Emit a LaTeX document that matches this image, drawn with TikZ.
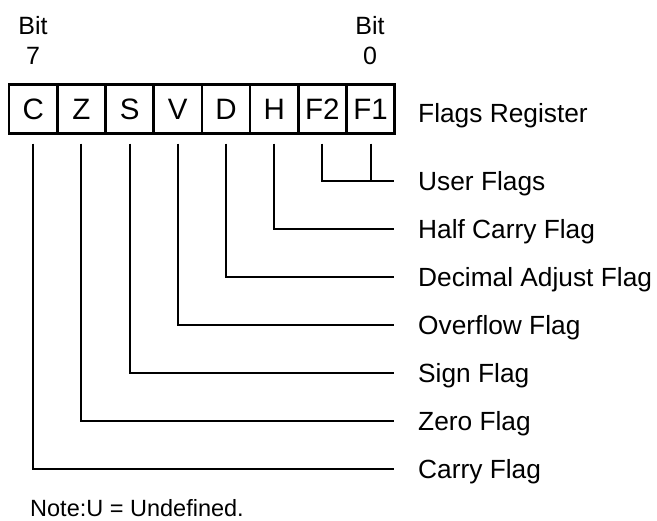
\documentclass[tikz,border=0pt]{standalone}
\usepackage{fontspec}
\setmainfont{Liberation Sans}
\begin{document}
\begin{tikzpicture}[x=1pt,y=-1pt,
  cell/.style={draw, line width=2.7pt, minimum width=48.2pt, minimum height=49pt, inner sep=0pt, text height=21pt, text depth=0pt, font=\fontsize{29.5}{35}\selectfont},
  flaglabel/.style={anchor=west, inner sep=0pt, text height=18.6pt, text depth=0pt, font=\fontsize{26.3}{31}\selectfont},
  bittext/.style={anchor=base, inner sep=0pt, font=\fontsize{25}{30}\selectfont},
  conn/.style={line width=2pt}
]
\useasboundingbox (0,0) rectangle (657,521);
% register cells
\node[cell] (C)  at (33.2,108.8) {C};
\node[cell] (Z)  at (81.4,108.8) {Z};
\node[cell] (S)  at (129.6,108.8) {S};
\node[cell] (V)  at (177.8,108.8) {V};
\node[cell] (D)  at (226.0,108.8) {D};
\node[cell] (H)  at (274.2,108.8) {H};
\node[cell] (F2) at (322.4,108.8) {F2};
\node[cell] (F1) at (370.6,108.8) {F1};
% bit numbers
\node[bittext] (bit7a) at (33,34.5) {Bit};
\node[bittext] (bit7b) at (33,65) {7};
\node[bittext] (bit0a) at (370,34.5) {Bit};
\node[bittext] (bit0b) at (370,65) {0};
% labels
\node[flaglabel] (lR) at (418,113) {Flags Register};
\node[flaglabel] (lU) at (418,181) {User Flags};
\node[flaglabel] (lH) at (418,229) {Half Carry Flag};
\node[flaglabel] (lD) at (418,277) {Decimal Adjust Flag};
\node[flaglabel] (lV) at (418,325) {Overflow Flag};
\node[flaglabel] (lS) at (418,373) {Sign Flag};
\node[flaglabel] (lZ) at (418,421) {Zero Flag};
\node[flaglabel] (lC) at (418,469) {Carry Flag};
\node[anchor=base west, inner sep=0pt, font=\fontsize{23.5}{28}\selectfont] (note) at (30,517) {Note:U = Undefined.};
% connectors
\draw[conn] ([yshift=-9pt]F2.south) |- ([xshift=-24pt]lU.west);
\draw[conn] ([yshift=-9pt]F1.south) -- (F1.south |- lU.west);
\draw[conn] ([yshift=-9pt]H.south) |- ([xshift=-24pt]lH.west);
\draw[conn] ([yshift=-9pt]D.south) |- ([xshift=-24pt]lD.west);
\draw[conn] ([yshift=-9pt]V.south) |- ([xshift=-24pt]lV.west);
\draw[conn] ([yshift=-9pt]S.south) |- ([xshift=-24pt]lS.west);
\draw[conn] ([yshift=-9pt]Z.south) |- ([xshift=-24pt]lZ.west);
\draw[conn] ([yshift=-9pt]C.south) |- ([xshift=-24pt]lC.west);
\end{tikzpicture}
\end{document}
